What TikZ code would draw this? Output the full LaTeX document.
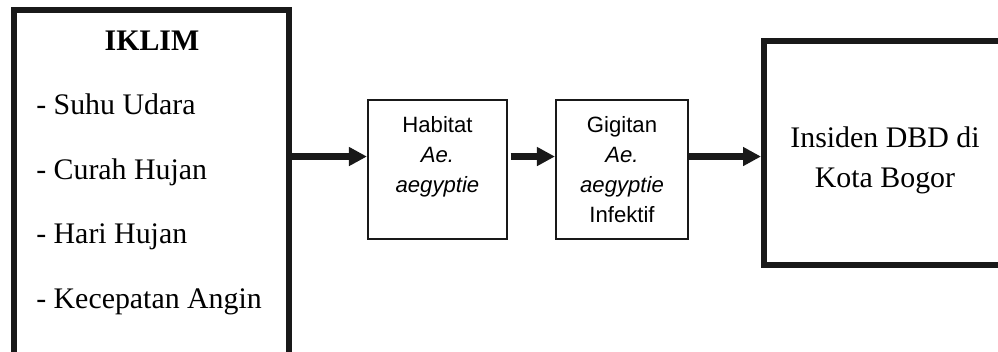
\documentclass[tikz,border=0pt]{standalone}
\usepackage{fontspec}
\setmainfont{Liberation Serif}
\newfontfamily\arialfont{Liberation Sans}
\usetikzlibrary{arrows.meta,positioning}

\begin{document}
\begin{tikzpicture}[x=1pt,y=1pt,>={Triangle[length=13.5pt,width=13.5pt]},line join=miter,
  bigbox/.style={draw=black!90,line width=4.5pt,inner sep=0pt},
  smallbox/.style={draw=black!90,line width=1.6pt,inner sep=0pt,minimum height=104.25pt},
  flow/.style={->,line width=5.5pt,draw=black!90},
  serif/.style={font=\fontsize{22.4}{30}\selectfont,inner sep=0pt},
  sans/.style={font=\arialfont\fontsize{16.6}{22.5}\selectfont,align=center,inner sep=0pt}]
\clip (0,0) rectangle (748.5,264);
\node[bigbox,minimum width=206.25pt,minimum height=277.5pt] (iklim) at (113.6,117.75) {};
\node[smallbox,minimum width=104.25pt] (habitat) at (328.1,136.9) {};
\node[smallbox,minimum width=99pt] (gigitan) at (466.5,136.9) {};
\node[bigbox,minimum width=181.5pt,minimum height=168pt] (insiden) at (663.75,149.25) {};
\coordinate (lvl) at (0,146.6);
\draw[flow] (iklim.east |- lvl) -- (habitat.west |- lvl);
\draw[flow,shorten <=2pt] (habitat.east |- lvl) -- (gigitan.west |- lvl);
\draw[flow] (gigitan.east |- lvl) -- (insiden.west |- lvl);
\node[serif,anchor=base] (judul) at (114,225.75) {\textbf{IKLIM}};
\node[serif,anchor=base west] (suhu) at (27,177.75) {- Suhu Udara};
\node[serif,anchor=base west] (curah) at (27,129.4) {- Curah Hujan};
\node[serif,anchor=base west] (hari) at (27,81) {- Hari Hujan};
\node[serif,anchor=base west] (angin) at (27,32.6) {- Kecepatan Angin};
\node[sans,below=12.8pt of habitat.north] (habitatteks) {Habitat\\\textit{Ae.}\\\textit{aegyptie}};
\node[sans,below=12.8pt of gigitan.north] (gigitanteks) {Gigitan\\\textit{Ae.}\\\textit{aegyptie}\\Infektif};
\node[serif,align=center,below=66.75pt of insiden.north] (insidenteks) {Insiden DBD di\\Kota Bogor};
\end{tikzpicture}
\end{document}
